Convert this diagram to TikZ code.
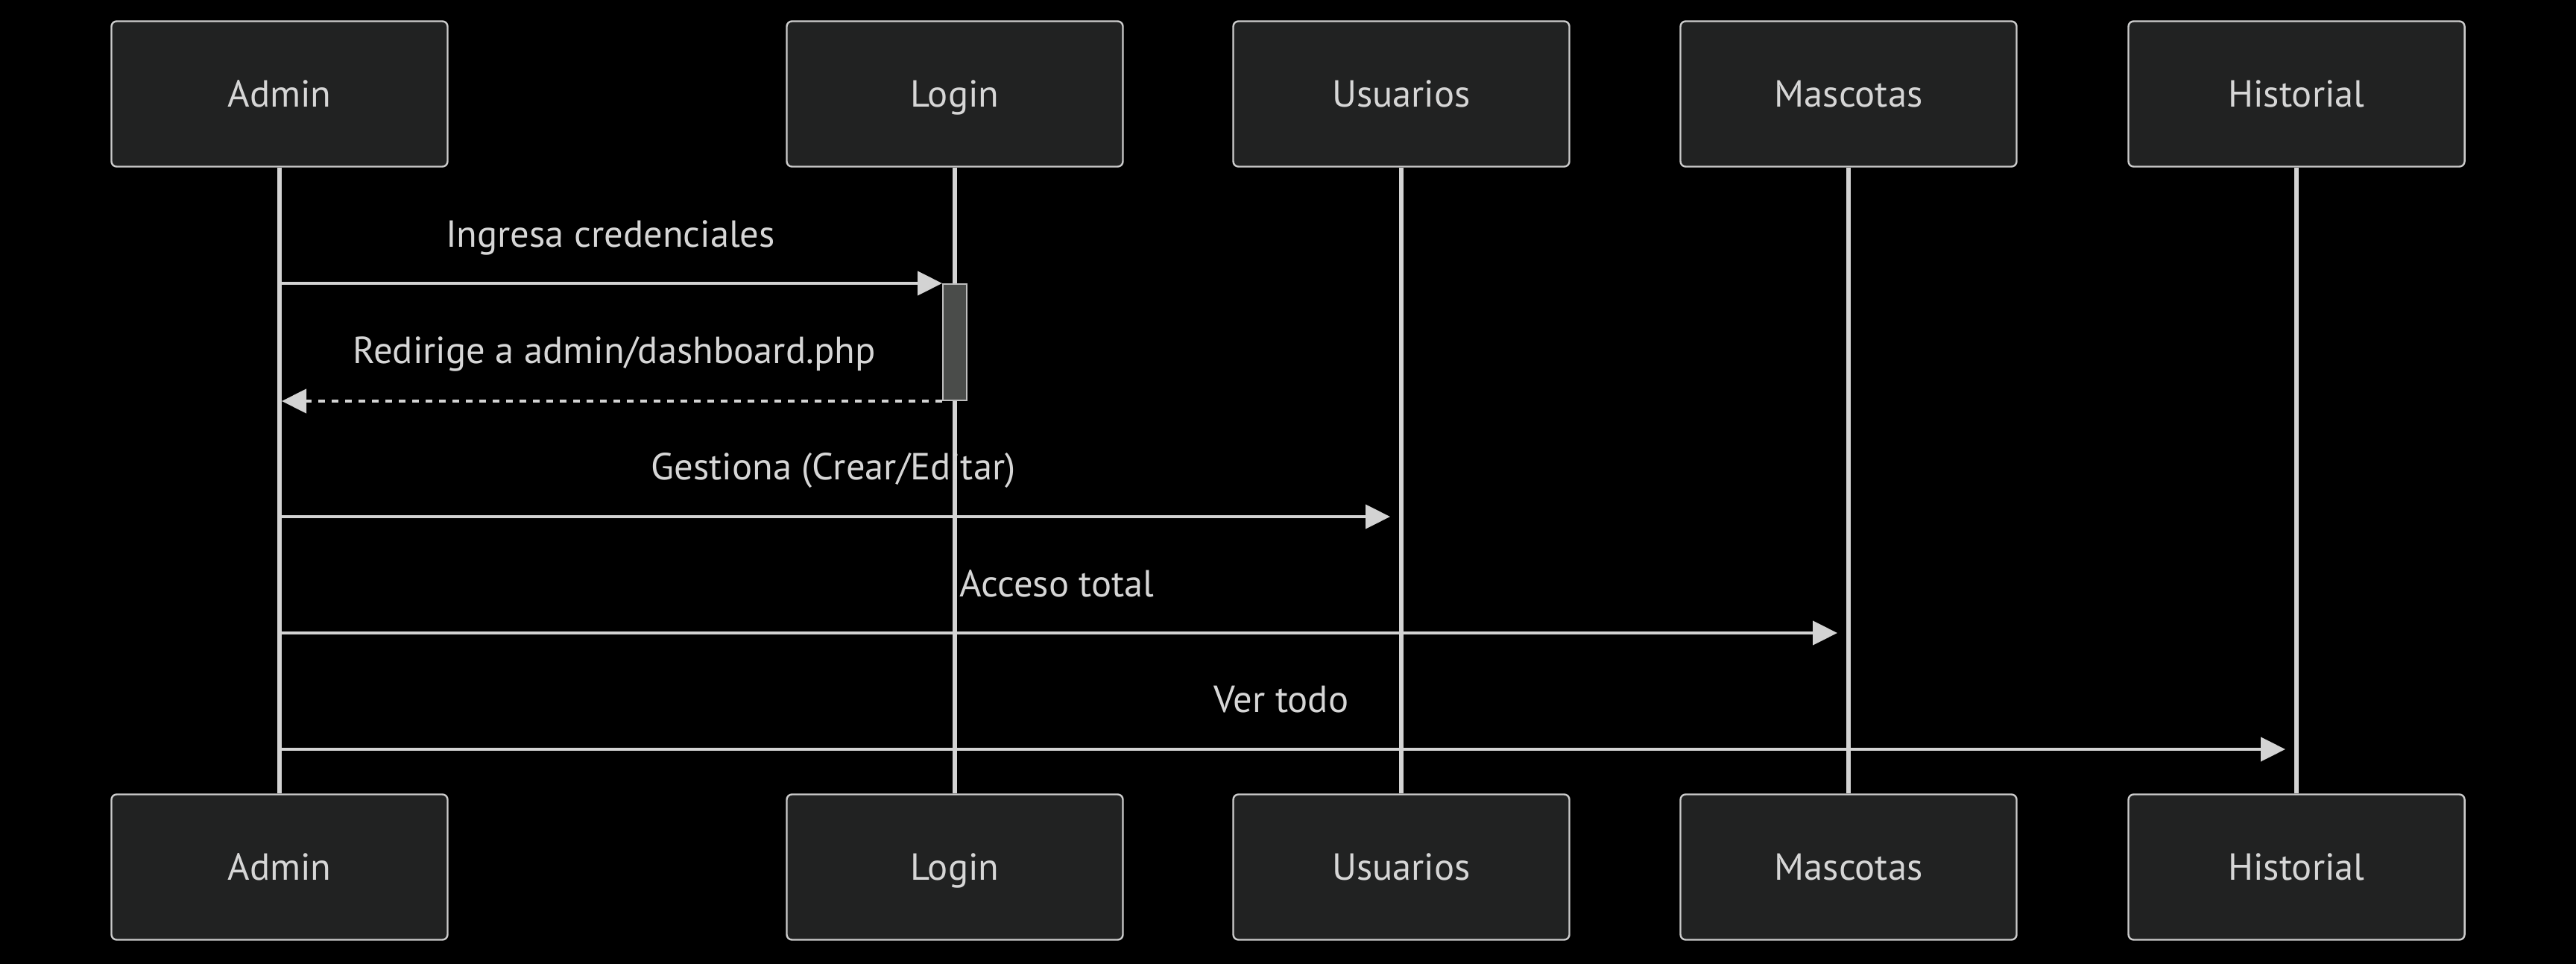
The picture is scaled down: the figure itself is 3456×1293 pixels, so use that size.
\documentclass[tikz,border=0pt]{standalone}
\usepackage{fontspec}
\setmainfont{PT Sans}
\usetikzlibrary{positioning,arrows.meta}

\definecolor{boxfill}{RGB}{33,34,34}
\definecolor{boxline}{RGB}{204,204,204}
\definecolor{txtgray}{RGB}{214,214,214}
\definecolor{linegray}{RGB}{211,211,211}
\definecolor{barfill}{RGB}{74,76,74}
\definecolor{barline}{RGB}{190,190,190}

\begin{document}
\begin{tikzpicture}[x=0.5pt,y=0.5pt,yscale=-1,
  actor/.style={draw=boxline, fill=boxfill, line width=1.2pt, rounded corners=3.5pt,
    minimum width=225.5pt, minimum height=97.5pt, inner sep=0pt,
    text=txtgray, font=\fontsize{25.3}{30}\selectfont, text height=17.5pt, text depth=0pt},
  life/.style={draw=linegray, line width=2.8pt},
  msg/.style={draw=linegray, line width=2.2pt, -{Triangle[length=16.5pt,width=16pt]}},
  reply/.style={msg, dash pattern=on 4.5pt off 4.5pt},
  lbl/.style={text=txtgray, font=\fontsize{25.3}{30}\selectfont, anchor=base, inner sep=0pt},
  actbar/.style={draw=barline, fill=barfill, line width=1pt, minimum width=16pt,
    minimum height=78pt, inner sep=0pt}]
%set diagram size
\fill[black] (0,0) rectangle (3456,1293);
\useasboundingbox (0,0) rectangle (3456,1293);

% participants, top row
\node[actor] (admin) at (375,126) {Admin};
\node[actor] (login) at (1281,126) {Login};
\node[actor] (usu) at (1880,126) {Usuarios};
\node[actor] (masc) at (2480,126) {Mascotas};
\node[actor] (hist) at (3081,126) {Historial};
% participants, bottom row
\node[actor] (adminB) at (375,1163) {Admin};
\node[actor] (loginB) at (1281,1163) {Login};
\node[actor] (usuB) at (1880,1163) {Usuarios};
\node[actor] (mascB) at (2480,1163) {Mascotas};
\node[actor] (histB) at (3081,1163) {Historial};

% lifelines
\draw[life] (admin) -- (adminB);
\draw[life] (login) -- (loginB);
\draw[life] (usu) -- (usuB);
\draw[life] (masc) -- (mascB);
\draw[life] (hist) -- (histB);

% activation
\node[actbar] (act) at (1281,459) {};

% messages
\draw[msg] (admin |- act.north west) -- (act.north west);
\draw[reply, shorten >=1.5pt] (act.south west) -- (admin |- act.south west);
\draw[msg, shorten >=7.5pt] (admin |- 0,693) -- (usu |- 0,693);
\draw[msg, shorten >=7.5pt] (admin |- 0,849) -- (masc |- 0,849);
\draw[msg, shorten >=7.5pt] (admin |- 0,1005) -- (hist |- 0,1005);

% message labels
\node[lbl] (l1) at (819,332) {Ingresa credenciales};
\node[lbl] (l2) at (824,488) {Redirige a admin/dashboard.php};
\node[lbl] (l3) at (1118,644) {Gestiona (Crear/Editar)};
\node[lbl] (l4) at (1418,800) {Acceso total};
\node[lbl] (l5) at (1719,955) {Ver todo};

\end{tikzpicture}
\end{document}
